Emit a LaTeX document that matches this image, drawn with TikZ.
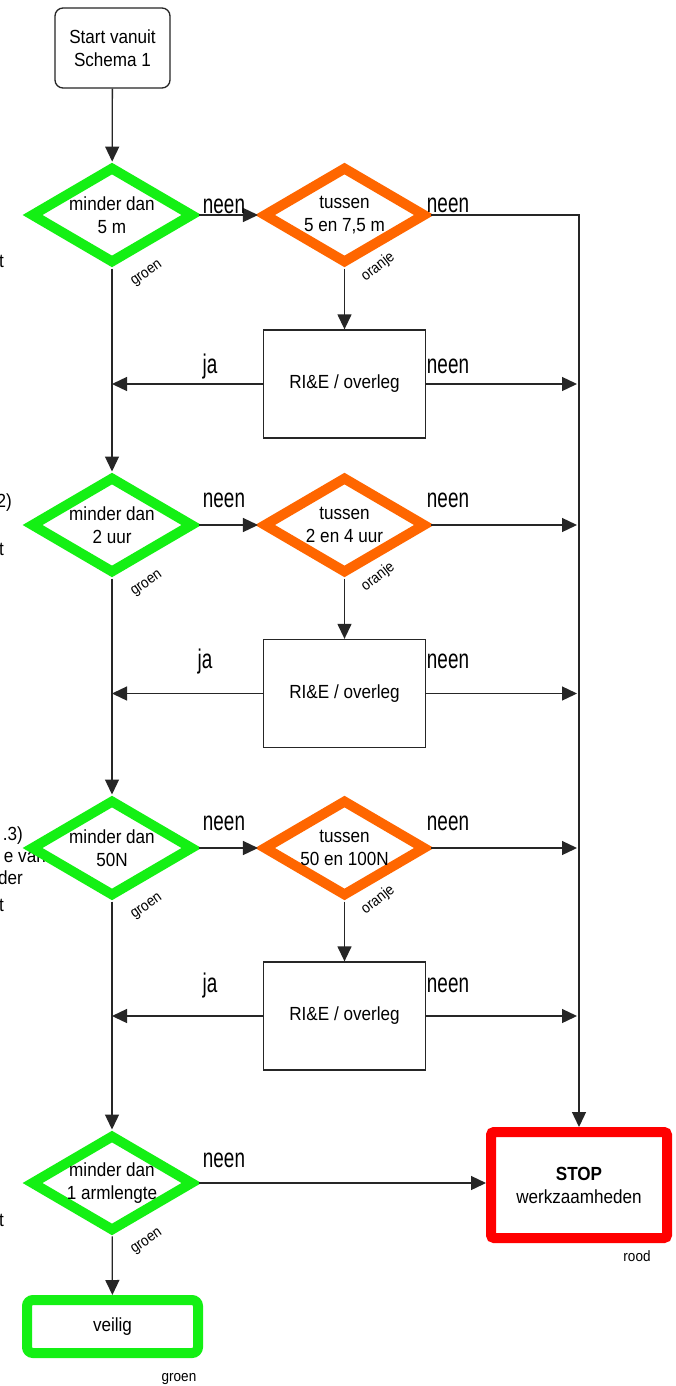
\documentclass[tikz,border=0pt]{standalone}
\usepackage{fontspec}
\setmainfont{Liberation Sans}
\newfontfamily\mainf[FakeStretch=0.9]{Liberation Sans}
\newfontfamily\lblf[FakeStretch=0.7]{Liberation Sans}
\newcommand{\mainsz}{\mainf\fontsize{19}{23}\selectfont}
\newcommand{\lblsz}{\lblf\fontsize{27}{30}\selectfont}
\newcommand{\smallsz}{\mainf\fontsize{15}{17}\selectfont}
\usetikzlibrary{shapes.geometric,arrows.meta}
\definecolor{gr}{RGB}{20,240,20}
\definecolor{og}{RGB}{255,102,0}
\definecolor{rd}{RGB}{255,0,0}
\begin{document}
\begin{tikzpicture}[x=1pt,y=-1pt,
  conn/.style={draw=black!85, line width=1.3pt},
  arr/.style={conn, -{Triangle[length=15pt,width=14pt]}},
  dia/.style={diamond, line width=10pt, fill=white, minimum width=163pt, minimum height=97pt, inner sep=0pt},
  gdia/.style={dia, draw=gr},
  odia/.style={dia, draw=og},
  txt/.style={font=\mainsz, align=center, inner sep=0pt},
  boxst/.style={rectangle, draw=black!85, line width=1.3pt, minimum width=162pt, minimum height=108pt, font=\mainsz, fill=white, inner sep=0pt},
  lbl/.style={font=\lblsz, inner sep=0pt, anchor=base},
  frag/.style={font=\mainsz, inner sep=0pt, anchor=base east},
  tiny/.style={font=\smallsz, inner sep=0pt}
]
\useasboundingbox[fill=white] (0,0) rectangle (675,1386);

% cut-off fragments at the left edge
\node[frag] (f1) at (4,267) {t};
\node[frag] (f2) at (12,507) {2)};
\node[frag] (f3) at (4,555) {t};
\node[frag] (f4) at (23,840) {.3)};
\node[frag] (f5) at (46,862) {e van};
\node[frag] (f6) at (23,884) {der};
\node[frag] (f7) at (4,911) {t};
\node[frag] (f8) at (4,1226) {t};

% start
\node[rectangle, rounded corners=8pt, draw=black!85, line width=1.3pt, minimum width=115pt, minimum height=80pt, align=center, font=\mainsz, inner sep=0pt] (S0) at (112.5,48) {Start vanuit\\Schema 1};

% row 1
\node[gdia] (G1) at (112,215) {};
\node[txt] (G1t) at (G1) {minder dan\\5 m};
\node[odia] (O1) at (344.5,215) {};
\node[txt] (O1t) at (O1) {tussen\\5 en 7,5 m};
\node[boxst] (B1) at (344.5,384) {RI\&E / overleg};

% row 2
\node[gdia] (G2) at (112,525) {};
\node[txt] (G2t) at (G2) {minder dan\\2 uur};
\node[odia] (O2) at (344.5,525) {};
\node[txt] (O2t) at (O2) {tussen\\2 en 4 uur};
\node[boxst] (B2) at (344.5,693.5) {RI\&E / overleg};

% row 3
\node[gdia] (G3) at (112,848) {};
\node[txt] (G3t) at (G3) {minder dan\\50N};
\node[odia] (O3) at (344.5,848) {};
\node[txt] (O3t) at (O3) {tussen\\50 en 100N};
\node[boxst] (B3) at (344.5,1016) {RI\&E / overleg};

% row 4
\node[gdia] (G4) at (112,1183) {};
\node[txt] (G4t) at (G4) {minder dan\\1 armlengte};

% end boxes
\node[rectangle, rounded corners=3pt, draw=rd, line width=10pt, minimum width=176pt, minimum height=106pt, align=center, font=\mainsz, fill=white, inner sep=0pt] (STOP) at (579,1185) {\textbf{STOP}\\werkzaamheden};
\node[rectangle, rounded corners=6pt, draw=gr, line width=10pt, minimum width=171pt, minimum height=53pt, font=\mainsz, fill=white, inner sep=0pt] (V) at (112.5,1326.5) {veilig};

% colour tags
\node[tiny, rotate=35] (c1) at (147,274) {groen};
\node[tiny, rotate=35] (c2) at (147,584) {groen};
\node[tiny, rotate=35] (c3) at (147,907) {groen};
\node[tiny, rotate=35] (c4) at (147,1242) {groen};
\node[tiny, rotate=38] (c5) at (378,267) {oranje};
\node[tiny, rotate=38] (c6) at (378,577) {oranje};
\node[tiny, rotate=38] (c7) at (378,900) {oranje};
\node[tiny, anchor=base] (c8) at (637,1261) {rood};
\node[tiny, anchor=base] (c9) at (179,1381) {groen};

% connectors: main column
\draw[arr] (S0) -- (G1);
\draw[arr] (G1) -- (G2);
\draw[arr] (G2) -- (G3);
\draw[arr] (G3) -- (G4);
\draw[arr] (G4) -- (V);

% green to orange
\draw[arr] (G1) -- (O1);
\draw[arr] (G2) -- (O2);
\draw[arr] (G3) -- (O3);

% orange to box
\draw[arr] (O1) -- (B1);
\draw[arr] (O2) -- (B2);
\draw[arr] (O3) -- (B3);

% box ja back to main column
\draw[arr] (B1.west) -- (B1.west -| G1.south);
\draw[arr] (B2.west) -- (B2.west -| G2.south);
\draw[arr] (B3.west) -- (B3.west -| G3.south);

% right column
\coordinate (R1) at (O1.east -| STOP.north);
\draw[arr] (O1.east) -- (R1) -- (STOP.north);
\draw[arr] (B1.east) -- ([xshift=-2pt]B1.east -| STOP.north);
\draw[arr] (O2.east) -- ([xshift=-2pt]O2.east -| STOP.north);
\draw[arr] (B2.east) -- ([xshift=-2pt]B2.east -| STOP.north);
\draw[arr] (O3.east) -- ([xshift=-2pt]O3.east -| STOP.north);
\draw[arr] (B3.east) -- ([xshift=-2pt]B3.east -| STOP.north);
\draw[arr] (G4.east) -- (G4.east -| STOP.west);

% yes / no labels
\node[lbl] (n1) at (224,213) {neen};
\node[lbl] (n2) at (448,212) {neen};
\node[lbl] (j1) at (210,373) {ja};
\node[lbl] (n3) at (448,373) {neen};
\node[lbl] (n4) at (224,507) {neen};
\node[lbl] (n5) at (448,507) {neen};
\node[lbl] (j2) at (205,668) {ja};
\node[lbl] (n6) at (448,668) {neen};
\node[lbl] (n7) at (224,830) {neen};
\node[lbl] (n8) at (448,830) {neen};
\node[lbl] (j3) at (210,992) {ja};
\node[lbl] (n9) at (448,992) {neen};
\node[lbl] (n10) at (224,1167) {neen};
\end{tikzpicture}
\end{document}
